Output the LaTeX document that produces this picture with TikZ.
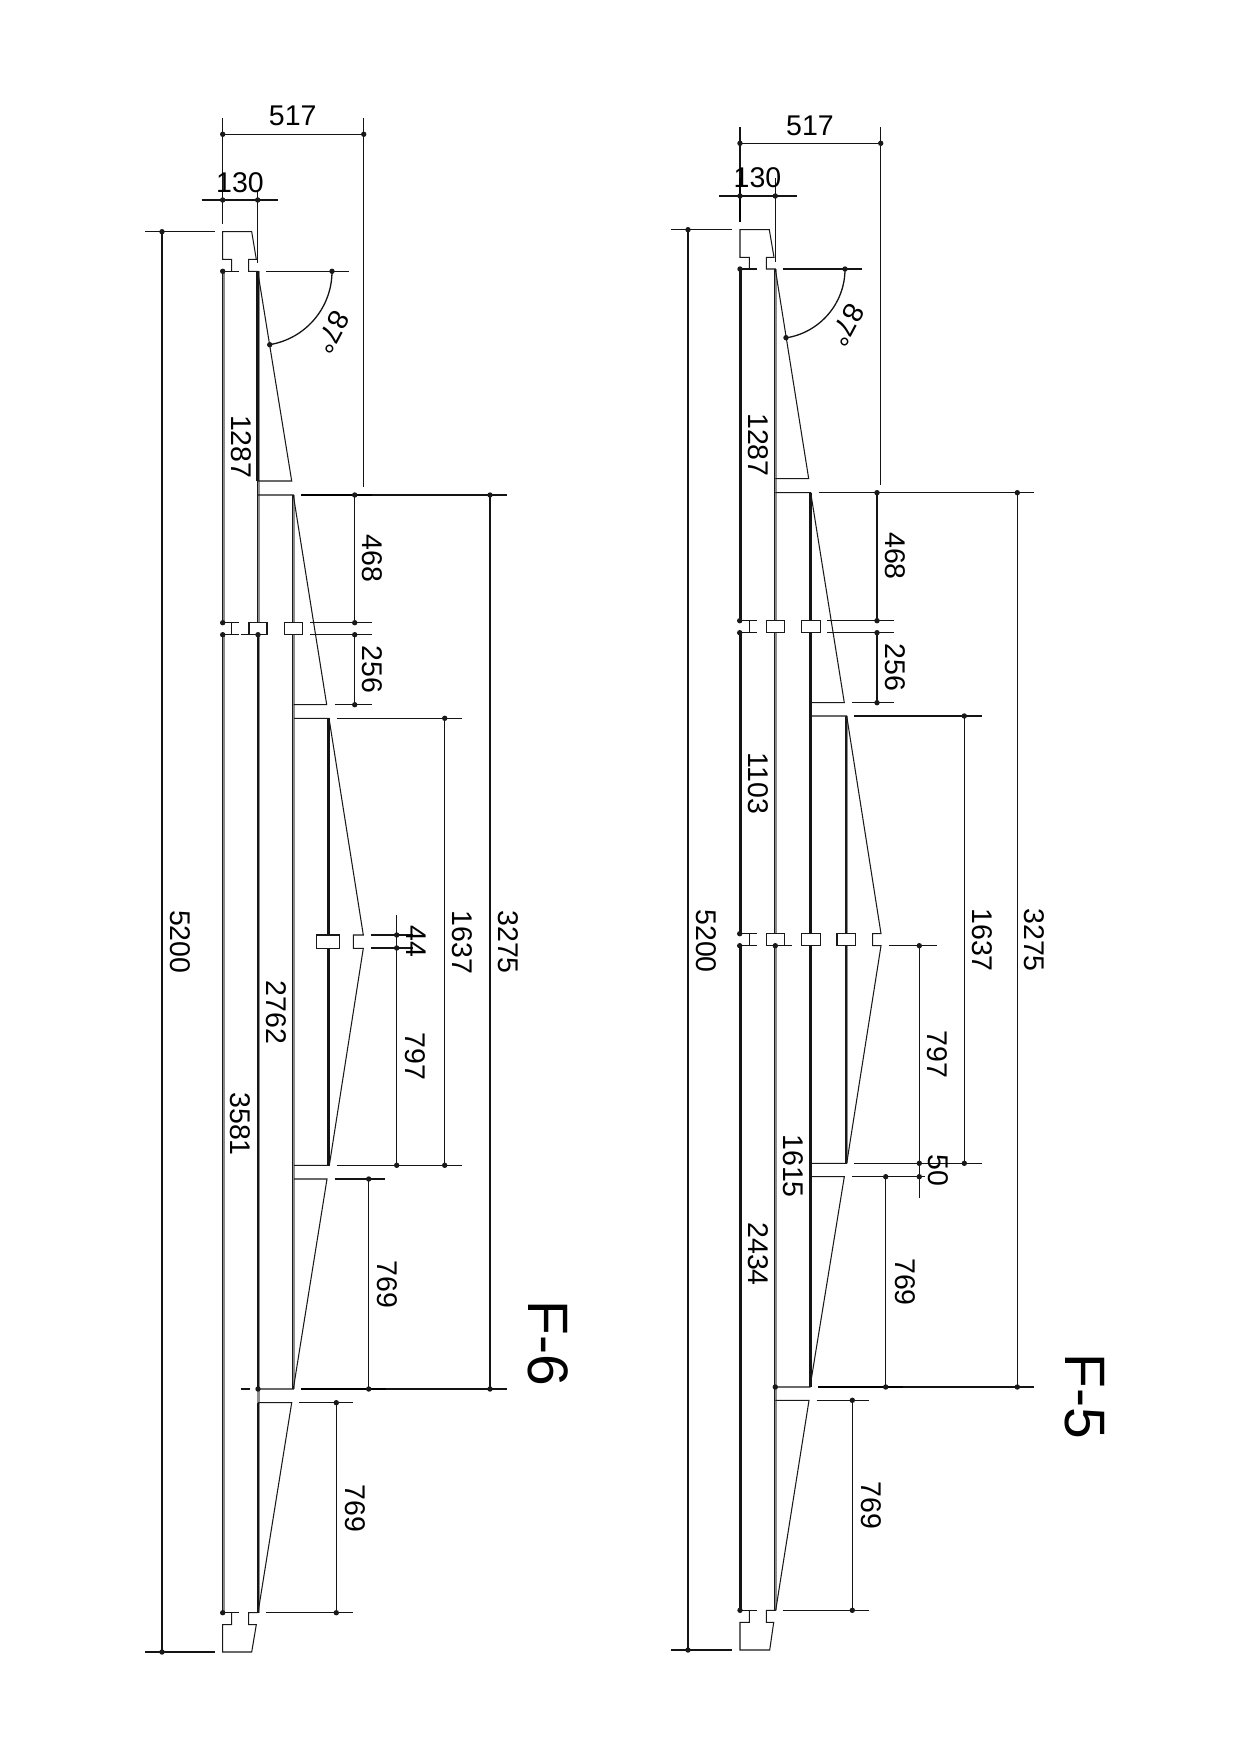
\documentclass[tikz,border=0pt]{standalone}
\usepackage{fontspec}
\setmainfont{Liberation Sans}
\tikzset{
  x=1pt,y=-1pt,
  dimline/.style={line width=1.3pt,black!92},
  extbold/.style={line width=1.7pt,black},
  outline/.style={line width=1.05pt,black!90},
  wallblack/.style={line width=2.8pt,black!92},
  wallthin/.style={line width=1.3pt,black!90},
  wallgray/.style={line width=2.8pt,black!45},
  dimtxt/.style={font=\fontsize{28.5}{28.5}\selectfont,inner sep=0pt,anchor=center},
  dimrot/.style={dimtxt,rotate=-90},
  angtxt/.style={dimtxt,rotate=-118},
  bigtxt/.style={font=\fontsize{57}{57}\selectfont,inner sep=0pt,anchor=center,rotate=-90},
}
\newcommand{\dotsat}[1]{\foreach \px/\py in {#1}{\fill[black!90] (\px,\py) circle (2.7);}}
\begin{document}
\begin{tikzpicture}
\useasboundingbox (0,0) rectangle (1240,1755);
\fill[white] (0,0) rectangle (1240,1755);

%% ---------- F-6 ----------
% gray/black walls
\draw[wallgray] (224,271.3) -- (224,622.7) (224,634.7) -- (224,1612.7);
\draw[wallthin] (222.7,271.3) -- (222.7,622.7) (222.7,634.7) -- (222.7,1612.7);
\draw[wallgray] (258.5,271.3) -- (258.5,622.7) (258.5,634.7) -- (258.5,1612.7);
\draw[wallblack] (257.7,271.3) -- (257.7,481) (258,634.7) -- (258,1389) (258,1402.7) -- (258,1612.7);
\draw[wallthin] (257.7,481) -- (257.7,622.7);
\draw[wallgray] (293.5,495) -- (293.5,622.7) (293.5,634.7) -- (293.5,1389);
\draw[wallthin] (292.7,495) -- (292.7,622.7) (292.7,634.7) -- (292.7,1389);
\draw[wallgray] (329,718.3) -- (329,935) (329,948.3) -- (329,1165.3);
\draw[wallblack] (328.6,718.3) -- (328.6,935) (328.6,948.3) -- (328.6,1165.3);
% profile outlines
\draw[outline] (231.7,271.3) -- (231.7,259.3) -- (222.7,259.3) -- (222.7,231.7) -- (251.7,231.7) -- (256.3,259.3) -- (248.7,259.3) -- (248.7,271.3) -- (257.7,271.3) -- (291.7,481) -- (258,481);
\draw[outline] (258,495) -- (293.3,495) -- (326.7,704.7) -- (293.7,704.7);
\draw[outline] (294,718.3) -- (329,718.3) -- (363.3,935) -- (353.3,935) -- (353.3,948.3) -- (363.3,948.3) -- (329.3,1165.3) -- (294,1165.3);
\draw[outline] (294,1179) -- (327,1179) -- (293.3,1389) -- (258,1389);
\draw[outline] (258,1402.7) -- (291.7,1402.7) -- (258,1612.7) -- (248.7,1612.7) -- (248.7,1624.7) -- (256.3,1624.7) -- (251.7,1652) -- (222.7,1652) -- (222.7,1624.7) -- (231.7,1624.7) -- (231.7,1612.7);
\draw[outline,fill=white] (249,622.7) rectangle (267,634.7);
\draw[outline,fill=white] (284.3,622.7) rectangle (302.3,634.7);
\draw[outline,fill=white] (316.7,935) rectangle (339.3,948.3);
% dimension lines
\draw[dimline] (222.7,118) -- (222.7,224) (363.7,118) -- (363.7,487) (222.7,134.3) -- (363.7,134.3);
\draw[dimline] (201.7,200) -- (278,200) (257.7,190) -- (257.7,263);
\draw[dimline] (145,231.7) -- (215,231.7) (145,1652) -- (215,1652) (162,231.7) -- (162,1652);
\draw[dimline] (222.7,271.3) -- (239.3,271.3) (266,271.3) -- (349,271.3);
\draw[line width=1.3pt,black!92] (332,271.3) arc[start angle=0,end angle=80.7,radius=74.3];
\draw[dimline] (301,495) -- (507,495) (301,1389) -- (507,1389) (490,495) -- (490,1389);
\draw[extbold] (301,495) -- (371.7,495) (301,1389) -- (385.7,1389);
\draw[dimline] (241,1389) -- (250,1389);
\draw[dimline] (354.7,495) -- (354.7,622.7) (354.7,634.7) -- (354.7,704.7);
\draw[dimline] (310,622.7) -- (371.7,622.7) (310,634.7) -- (371.7,634.7) (334.7,704.7) -- (371.7,704.7);
\draw[dimline] (222.7,622.7) -- (239.3,622.7) (222.7,634.7) -- (239.3,634.7) (240.7,634.7) -- (249,634.7) (231.7,622.7) -- (231.7,634.7);
\draw[dimline] (444.7,718.3) -- (444.7,1165.3) (336.7,718.3) -- (461.7,718.3) (336.7,1165.3) -- (461.7,1165.3);
\draw[dimline] (396.7,915) -- (396.7,1165.3) (371,935) -- (413,935) (371,948) -- (413,948);
\draw[dimline] (368.7,1179) -- (368.7,1389) (334.7,1179) -- (385.3,1179);
\draw[dimline] (336.3,1402.7) -- (336.3,1612.7) (299,1402.7) -- (352.7,1402.7) (266,1612.7) -- (352.7,1612.7);
\draw[dimline] (222.7,1612.7) -- (239.3,1612.7);
\dotsat{222.7/134.3,363.7/134.3,222.7/200,257.7/200,162/231.7,162/1652,222.7/271.3,332/271.3,269.7/344.7,354.7/495,490/495,354.7/622.7,354.7/634.7,354.7/704.7,222.7/622.7,222.7/634.7,258/634.7,444.7/718.3,444.7/1165.3,396.7/935,396.7/948,396.7/1165.3,368.7/1179,368.7/1389,490/1389,258/1389,336.3/1402.7,336.3/1612.7,222.7/1612.7}
% texts
\node[dimtxt] (a517) at (292.7,116) {517};
\node[dimtxt] (a130) at (240,182.7) {130};
\node[angtxt] (a87) at (332,332) {87°};
\node[dimrot] (a1287) at (241,446.7) {1287};
\node[dimrot] (a468) at (372.7,558.3) {468};
\node[dimrot] (a256) at (372.7,669.3) {256};
\node[dimrot] (a44) at (416.7,941.7) {44};
\node[dimrot] (a1637) at (462.7,942.3) {1637};
\node[dimrot] (a3275) at (508.3,942) {3275};
\node[dimrot] (a2762) at (276.7,1012.3) {2762};
\node[dimrot] (a3581) at (240.7,1124) {3581};
\node[dimrot] (a797) at (415,1056.7) {797};
\node[dimrot] (a769a) at (387.7,1284.6) {769};
\node[dimrot] (a769b) at (355,1508.3) {769};
\node[dimrot] (a5200) at (180.7,941.7) {5200};
\node[bigtxt] (f6) at (548.3,1343) {F-6};

%% ---------- F-5 ----------
\draw[wallblack] (740.3,269) -- (740.3,620.7) (740.3,632.7) -- (740.3,933.7) (740.3,945.7) -- (740.3,1610.3);
\draw[wallgray] (775.7,269) -- (775.7,620.7) (775.7,632.7) -- (775.7,933.7) (775.7,945.7) -- (775.7,1610.3);
\draw[wallthin] (774.6,269) -- (774.6,620.7) (774.6,632.7) -- (774.6,933.7) (774.6,945.7) -- (774.6,1610.3);
\draw[wallblack] (810.7,492.7) -- (810.7,620.7) (810.7,632.7) -- (810.7,933.7) (810.7,945.7) -- (810.7,1387);
\draw[wallgray] (846.9,716) -- (846.9,933.7) (846.9,945.7) -- (846.9,1163.3);
\draw[wallthin] (846,716) -- (846,933.7) (846,945.7) -- (846,1163.3);
% profile outlines
\draw[outline] (749.3,269) -- (749.3,257.3) -- (740,257.3) -- (740,229.7) -- (769.3,229.7) -- (774,257.3) -- (766.3,257.3) -- (766.3,269) -- (775.3,269) -- (808.7,478.7) -- (775.3,478.7);
\draw[outline] (775.3,492.7) -- (810.7,492.7) -- (844.3,702.7) -- (811,702.7);
\draw[outline] (811,716) -- (846.7,716) -- (881,933.7) -- (872.7,933.7) -- (872.7,945.7) -- (881,945.7) -- (846.7,1163.3) -- (811,1163.3);
\draw[outline] (811,1176.7) -- (844.3,1176.7) -- (810,1387) -- (775.3,1387);
\draw[outline] (775.3,1400.3) -- (809,1400.3) -- (775.7,1610.3) -- (766.3,1610.3) -- (766.3,1622.3) -- (773.7,1622.3) -- (769.7,1650) -- (740,1650) -- (740,1622.3) -- (749.3,1622.3) -- (749.3,1610.3);
\draw[outline,fill=white] (766.3,620.7) rectangle (784.7,632.7);
\draw[outline,fill=white] (801.7,620.7) rectangle (820.3,632.7);
\draw[outline,fill=white] (766.3,933.7) rectangle (784.7,945.7);
\draw[outline,fill=white] (801.7,933.7) rectangle (820.3,945.7);
\draw[outline,fill=white] (837,933.7) rectangle (855.7,945.7);
% dimension lines
\draw[dimline] (740,127.3) -- (740,222.3) (880.7,127.3) -- (880.7,485) (740,143.3) -- (880.7,143.3);
\draw[dimline] (719,196) -- (796.7,196) (775.3,178) -- (775.3,261.7);
\draw[extbold] (740,178) -- (740,222.3);
\draw[dimline] (671,229.7) -- (732.3,229.7) (671,1650) -- (732.3,1650) (688,229.7) -- (688,1650);
\draw[dimline] (740,269) -- (756.7,269) (782.7,269) -- (861.7,269);
\draw[line width=1.3pt,black!92] (845,269) arc[start angle=0,end angle=81,radius=69.7];
\draw[dimline] (818.7,492.7) -- (1034.3,492.7) (818.3,1387) -- (1034.3,1387) (1017.3,492.7) -- (1017.3,1387);
\draw[extbold] (818.3,1387) -- (902.7,1387);
\draw[dimline] (877,492.7) -- (877,620.7) (877,632.7) -- (877,702.7);
\draw[dimline] (827.3,620.7) -- (894,620.7) (827.3,632.7) -- (894,632.7) (852,702.7) -- (894,702.7);
\draw[dimline] (740,620.7) -- (756.7,620.7) (740,632.7) -- (756.7,632.7) (749.3,620.7) -- (749.3,632.7);
\draw[dimline] (740,933.7) -- (756.7,933.7) (740,945.7) -- (756.7,945.7) (749.3,933.7) -- (749.3,945.7);
\draw[dimline] (775.3,945.7) -- (792,945.7);
\draw[dimline] (964.3,716) -- (964.3,1163.3) (854,716) -- (981.7,716) (854,1163.3) -- (981.7,1163.3);
\draw[dimline] (919.3,945.7) -- (919.3,1197.7) (888.7,945.7) -- (936.7,945.7);
\draw[dimline] (885.7,1176.7) -- (885.7,1387) (852,1176.7) -- (925,1176.7);
\draw[dimline] (852.3,1400.3) -- (852.3,1610.3) (816.7,1400.3) -- (869.3,1400.3) (782.7,1610.3) -- (869.3,1610.3);
\draw[dimline] (740,1610.3) -- (756.7,1610.3);
\dotsat{740/143.3,880.7/143.3,740/196,775.3/196,688/229.7,688/1650,740/269,845/269,786/337.7,877/492.7,1017.3/492.7,877/620.7,877/632.7,877/702.7,739.7/620.7,739.7/632.7,964.3/716,964.3/1163.3,739.7/933.7,739.7/945.7,775.3/945.7,919.3/945.7,919.3/1163.3,919.3/1176.7,885.7/1176.7,885.7/1387,1017.3/1387,775.3/1387,852.3/1400.3,852.3/1610.3,740/1610.3}
% texts
\node[dimtxt] (b517) at (810,125.5) {517};
\node[dimtxt] (b130) at (757.5,178) {130};
\node[angtxt] (b87) at (846.7,325) {87°};
\node[dimrot] (b1287) at (758.3,445) {1287};
\node[dimrot] (b468) at (895,556) {468};
\node[dimrot] (b256) at (895,667.3) {256};
\node[dimrot] (b1103) at (758.3,783.3) {1103};
\node[dimrot] (b1637) at (982.7,940) {1637};
\node[dimrot] (b3275) at (1034,940) {3275};
\node[dimrot] (b797) at (937.7,1054.3) {797};
\node[dimrot] (b1615) at (793.3,1166) {1615};
\node[dimrot] (b50) at (938.3,1170.7) {50};
\node[dimrot] (b2434) at (758,1254) {2434};
\node[dimrot] (b769a) at (905,1282) {769};
\node[dimrot] (b769b) at (871,1505.7) {769};
\node[dimrot] (b5200) at (706.6,941) {5200};
\node[bigtxt] (f5) at (1085,1396) {F-5};
\end{tikzpicture}
\end{document}
